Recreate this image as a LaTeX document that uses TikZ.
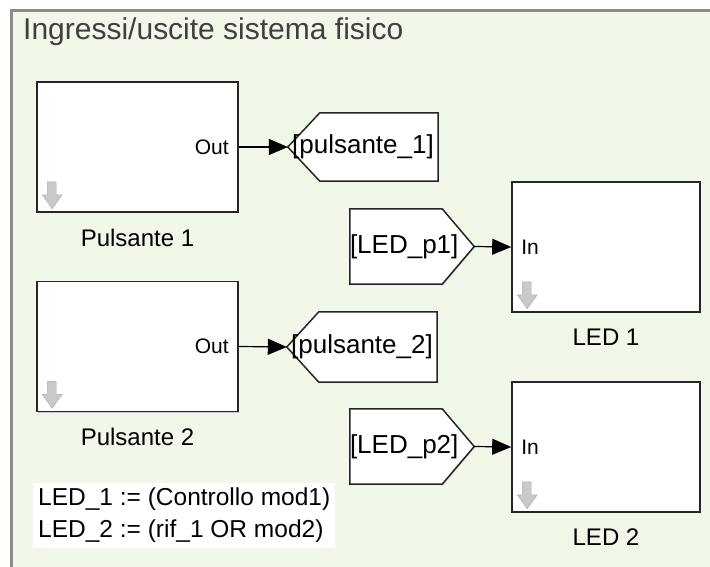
\documentclass[tikz,border=0pt]{standalone}
\usepackage{fontspec}
\setmainfont{Liberation Sans}
\usetikzlibrary{arrows.meta,positioning,calc,shadows,backgrounds}
\definecolor{AreaGreen}{HTML}{F1F7E9}
\definecolor{AreaEdge}{HTML}{8C8C8C}
\definecolor{IconGray}{HTML}{C9C9C9}
\newcommand\fsz[1]{\fontsize{#1}{#1}\selectfont}

\begin{document}
\begin{tikzpicture}[x=1pt,y=-1pt,>={Triangle[length=19pt,width=16pt]},
  blk/.style={draw=black!85,line width=1.6pt,fill=white,inner sep=0pt,minimum height=130pt,drop shadow={shadow xshift=1.2pt,shadow yshift=-1.2pt,opacity=.35}},
  tagtxt/.style={rectangle,inner sep=0pt,font=\fsz{26}},
  tagline/.style={draw=black!85,line width=1.5pt,fill=white,drop shadow={shadow xshift=1pt,shadow yshift=-1pt,opacity=.3}},
  lbl/.style={inner sep=0pt,font=\fsz{24}},
  port/.style={inner sep=0pt,font=\fsz{21}},
  wire/.style={->,line width=1.2pt}]
\useasboundingbox (0,0) rectangle (710,567);
\node[anchor=base west,inner sep=0pt,font=\fsz{30},text=black!75] (title) at (23,40) {Ingressi/uscite sistema fisico};

% blocks
\node[blk,minimum width=201pt] (pul1) at (137.5,147) {};
\node[blk,minimum width=201pt] (pul2) at (137.5,346.5) {};
\node[blk,minimum width=188pt] (led1) at (606,247) {};
\node[blk,minimum width=188pt] (led2) at (606,447) {};
\node[lbl,below=16pt of pul1] (pul1lbl) {Pulsante 1};
\node[lbl,below=16pt of pul2] (pul2lbl) {Pulsante 2};
\node[lbl,below=16pt of led1] (led1lbl) {LED 1};
\node[lbl,below=16pt of led2] (led2lbl) {LED 2};
\node[port,anchor=east] (out1) at ($(pul1.east)+(-10,0)$) {Out};
\node[port,anchor=east] (out2) at ($(pul2.east)+(-10,0)$) {Out};
\node[port,anchor=west] (in1) at ($(led1.west)+(10,0)$) {In};
\node[port,anchor=west] (in2) at ($(led2.west)+(10,0)$) {In};
\foreach \b in {pul1,pul2,led1,led2}
  \filldraw[fill=IconGray,draw=IconGray!85!black,line width=.4pt] ($(\b.south west)+(11,-31)$) -- ++(9,0) -- ++(0,13) -- ++(6,0) -- ++(-10,14) -- ++(-10,-14) -- ++(5,0) -- cycle;

% goto / from tags
\node[tagtxt,minimum width=150pt,minimum height=68pt] (goto1) at (363,147) {[pulsante\_1]};
\node[tagtxt,minimum width=150pt,minimum height=70pt] (goto2) at (362,347) {[pulsante\_2]};
\node[tagtxt,text width=124pt,minimum height=75pt,align=left] (from1) at (412,246.5) {[LED\_p1]};
\node[tagtxt,text width=124pt,minimum height=75pt,align=left] (from2) at (412,446.5) {[LED\_p2]};

\begin{scope}[on background layer]
% subsystem area
\fill[AreaGreen] (11,11) rectangle (714,570);
\draw[AreaEdge,line width=2.2pt] (11.5,570) -- (11.5,10.5) -- (714,10.5);
\foreach \g in {goto1,goto2}
  \draw[tagline] (\g.west) -- ($(\g.north west)+(32,0)$) -- (\g.north east) -- (\g.south east) -- ($(\g.south west)+(32,0)$) -- cycle;
\foreach \f in {from1,from2}
  \draw[tagline] (\f.north west) -- ($(\f.north east)+(-32,0)$) -- (\f.east) -- ($(\f.south east)+(-32,0)$) -- (\f.south west) -- cycle;
\end{scope}

\draw[wire] (pul1.east) -- (goto1.west);
\draw[wire] (pul2.east) -- (goto2.west);
\draw[wire] (from1.east) -- (led1.west);
\draw[wire] (from2.east) -- (led2.west);

% annotation
\node[anchor=north west,fill=white,align=left,inner xsep=5pt,inner ysep=5pt,font=\fontsize{24.5}{32}\selectfont] (eqs) at (33,483) {LED\_1 := (Controllo mod1)\\LED\_2 := (rif\_1 OR mod2)};
\end{tikzpicture}
\end{document}
